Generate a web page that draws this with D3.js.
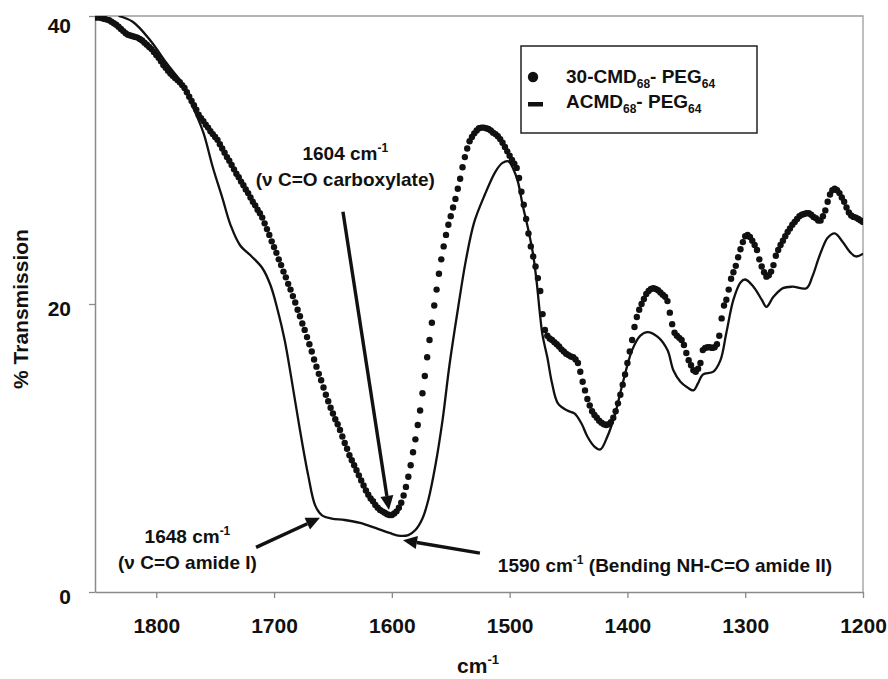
<!DOCTYPE html>
<html>
<head>
<meta charset="utf-8">
<script src="https://cdn.jsdelivr.net/npm/d3@7"></script>
<style>
  body { margin: 0; background: #fff; }
  text { font-family: "Liberation Sans", Arial, sans-serif; font-weight: bold; fill: #111; }
</style>
</head>
<body>
<svg id="chart" width="888" height="679"></svg>
<script>
// 30-CMD68-PEG64 spectrum: % transmission every 2 cm-1 from 1852 down to 1200 cm-1
const cmdStart = 1852;
const cmdStep = 2;
const cmdT = [
  39.9, 39.9, 39.9, 39.85, 39.8, 39.75, 39.7, 39.6, 39.5, 39.4,        // 1852
  39.25, 39.1, 38.95, 38.8, 38.7, 38.65, 38.6, 38.55, 38.5, 38.4,      // 1832
  38.3, 38.15, 38.0, 37.85, 37.7, 37.5, 37.3, 37.1, 36.85, 36.6,       // 1812
  36.4, 36.2, 36.0, 35.85, 35.7, 35.55, 35.4, 35.2, 35.0, 34.7,        // 1792
  34.4, 34.1, 33.8, 33.5, 33.15, 32.9, 32.7, 32.45, 32.25, 32.0,       // 1772
  31.8, 31.6, 31.4, 31.1, 30.8, 30.5, 30.2, 29.95, 29.65, 29.35,       // 1752
  29.05, 28.8, 28.5, 28.25, 27.95, 27.7, 27.4, 27.1, 26.85, 26.55,     // 1732
  26.3, 26.0, 25.6, 25.2, 24.8, 24.35, 23.95, 23.55, 23.1, 22.7,       // 1712
  22.25, 21.85, 21.4, 21.0, 20.55, 20.1, 19.6, 19.15, 18.65, 18.2,     // 1692
  17.7, 17.2, 16.7, 16.15, 15.65, 15.15, 14.7, 14.2, 13.7, 13.25,      // 1672
  12.8, 12.4, 12.0, 11.65, 11.25, 10.8, 10.35, 9.95, 9.5, 9.15,        // 1652
  8.8, 8.45, 8.1, 7.75, 7.4, 7.05, 6.75, 6.5, 6.3, 6.05,               // 1632
  5.85, 5.7, 5.6, 5.5, 5.4, 5.35, 5.35, 5.45, 5.6, 5.85,               // 1612
  6.2, 6.7, 7.3, 8.0, 8.8, 9.7, 10.6, 11.6, 12.6, 13.8,                // 1592
  15.0, 16.3, 17.5, 18.7, 19.9, 21.0, 22.1, 23.1, 24.0, 24.8,          // 1572
  25.5, 26.1, 26.7, 27.3, 28.0, 28.7, 29.5, 30.2, 30.8, 31.3,          // 1552
  31.6, 31.85, 32.05, 32.2, 32.25, 32.25, 32.2, 32.15, 32.05, 31.9,    // 1532
  31.8, 31.65, 31.45, 31.2, 30.9, 30.6, 30.3, 30.0, 29.75, 29.45,      // 1512
  28.75, 27.8, 26.9, 25.9, 24.9, 24.0, 23.3, 22.6, 21.8, 20.9,         // 1492
  19.3, 18.2, 17.8, 17.6, 17.5, 17.35, 17.2, 17.05, 16.85, 16.7,       // 1472
  16.55, 16.45, 16.35, 16.3, 16.15, 15.9, 15.3, 14.6, 14.0, 13.4,      // 1452
  12.95, 12.55, 12.3, 12.1, 11.9, 11.75, 11.65, 11.6, 11.65, 11.8,     // 1432
  12.1, 12.55, 13.1, 13.7, 14.4, 15.1, 15.9, 16.7, 17.5, 18.4,         // 1412
  19.1, 19.6, 20.0, 20.35, 20.7, 20.9, 21.05, 21.1, 21.05, 20.95,      // 1392
  20.8, 20.65, 20.5, 20.2, 19.4, 18.6, 18.0, 17.8, 17.65, 17.5,        // 1372
  17.15, 16.6, 16.1, 15.75, 15.4, 15.3, 15.5, 15.9, 16.8, 16.95,       // 1352
  17.0, 17.0, 16.95, 17.0, 17.2, 17.8, 19.0, 19.9, 20.3, 21.0,         // 1332
  21.75, 22.2, 22.65, 23.25, 23.8, 24.3, 24.7, 24.8, 24.65, 24.4,      // 1312
  24.1, 23.75, 23.1, 22.6, 22.2, 21.9, 22.0, 22.25, 22.7, 23.35,       // 1292
  23.75, 24.1, 24.4, 24.7, 25.0, 25.25, 25.5, 25.7, 25.9, 26.1,        // 1272
  26.2, 26.25, 26.3, 26.3, 26.2, 26.05, 25.95, 25.8, 25.8, 26.1,       // 1252
  26.5, 27.1, 27.6, 27.9, 28.0, 27.9, 27.7, 27.4, 27.1, 26.7,          // 1232
  26.35, 26.15, 26.05, 26.0, 25.9, 25.8, 25.7                          // 1212
];

// ACMD68-PEG64 spectrum: wavenumber (cm-1) and % transmission
const acmdWn = [
  1832, 1820, 1805, 1791, 1777, 1769, 1760, 1752, 1744, 1737, 1729, 1719, 1710, 1703,
  1697, 1691, 1685, 1678, 1671, 1665, 1659, 1651, 1640, 1627, 1614, 1602, 1593, 1586,
  1580, 1574, 1569, 1563, 1557, 1551, 1544, 1537, 1530, 1521, 1512, 1506, 1501, 1497,
  1493, 1489, 1484, 1480, 1477, 1474, 1472, 1468, 1464, 1459, 1451, 1445, 1439, 1434,
  1428, 1423, 1417, 1411, 1404, 1396, 1389, 1383, 1374, 1366, 1361, 1355, 1349, 1344,
  1340, 1336, 1327, 1321, 1316, 1310, 1304, 1300, 1293, 1286, 1282, 1276, 1268, 1260,
  1248, 1243, 1238, 1235, 1230, 1224, 1218, 1211, 1206, 1200
];
const acmdT = [
  40.0, 39.6, 38.3, 36.7, 35.2, 33.7, 31.9, 29.5, 27.4, 25.5, 24.1, 23.3, 22.5, 21.3,
  19.6, 17.5, 14.7, 11.25, 8.1, 6.0, 5.3, 5.1, 5.0, 4.8, 4.45, 4.1, 3.9, 3.95,
  4.3, 5.1, 6.4, 8.8, 11.9, 15.8, 19.6, 23.1, 25.7, 27.6, 29.2, 29.8, 29.9, 29.4,
  28.5, 26.9, 25.1, 23.4, 21.5, 19.1, 17.8, 16.3, 14.5, 13.1, 12.6, 12.4, 11.7, 10.8,
  10.1, 9.9, 10.8, 12.2, 14.5, 16.8, 17.8, 18.05, 17.7, 16.8, 15.4, 14.6, 14.2, 14.0,
  14.5, 15.1, 15.3, 16.1, 18.0, 20.3, 21.5, 21.7, 21.2, 20.3, 19.8, 20.5, 21.1, 21.2,
  21.1, 21.9, 23.1, 23.75, 24.6, 24.9, 24.4, 23.6, 23.3, 23.5
];

const xTicks = [1800, 1700, 1600, 1500, 1400, 1300, 1200];
const yTicks = [0, 20, 40];
const seriesNames = ["30-CMD", "ACMD"];

// Band annotations: label lines, label anchor and arrow (tail -> tip) in data units
const notes = [
  { lines: [["1604 cm", "-1"], ["(ν C=O carboxylate)", ""]], at: [1639.5, 30.0], anchor: "middle",
    tail: [1641.5, 26.4], tip: [1602.4, 5.7] },
  { lines: [["1648 cm", "-1"], ["(ν C=O amide I)", ""]], at: [1773.5, 3.4], anchor: "middle",
    tail: [1715.3, 3.1], tip: [1661, 5.15] },
  { lines: [["1590 cm", "-1", " (Bending NH-C=O amide II)"]], at: [1510, 1.4], anchor: "start",
    tail: [1525.2, 2.7], tip: [1590.5, 3.6] }
];

const W = 888, H = 679;
const box = { left: 95, right: 863, top: 16, bottom: 592 };
const ink = "#111";

const svg = d3.select("#chart");
svg.append("rect").attr("width", W).attr("height", H).attr("fill", "#fff");

const x = d3.scaleLinear().domain([1852, 1200]).range([box.left, box.right]);
const y = d3.scaleLinear().domain([0, 40]).range([box.bottom, box.top]);

svg.append("defs").append("clipPath").attr("id", "plotClip")
  .append("rect")
  .attr("x", box.left).attr("y", box.top)
  .attr("width", box.right - box.left).attr("height", box.bottom - box.top);

// plot frame (top and right edges)
svg.append("path")
  .attr("d", `M${box.left},${box.top}H${box.right}V${box.bottom}`)
  .attr("fill", "none").attr("stroke", "#9c9c9c").attr("stroke-width", 1.3);

// x axis
const gx = svg.append("g").attr("transform", `translate(0,${box.bottom})`)
  .call(d3.axisBottom(x).tickValues(xTicks).tickSize(6).tickSizeOuter(0).tickFormat(d3.format("d")));
gx.select(".domain").attr("stroke", "#8a8a8a").attr("stroke-width", 1.5);
gx.selectAll(".tick line").attr("stroke", "#8a8a8a").attr("stroke-width", 1.3);
gx.selectAll(".tick text")
  .attr("y", 41).attr("dy", null)
  .style("font-size", "21px").style("font-family", "'Liberation Sans', Arial, sans-serif")
  .style("font-weight", "bold").attr("fill", ink);

// y axis
const gy = svg.append("g").attr("transform", `translate(${box.left},0)`)
  .call(d3.axisLeft(y).tickValues(yTicks).tickSize(6).tickSizeOuter(0).tickFormat(d3.format("d")));
gy.select(".domain").attr("stroke", "#8a8a8a").attr("stroke-width", 1.5);
gy.selectAll(".tick line").attr("stroke", "#8a8a8a").attr("stroke-width", 1.3);
// labels sit a little below their tick, and the top one is kept inside the chart area
gy.selectAll(".tick text")
  .attr("x", -24).attr("dy", null)
  .attr("y", d => Math.max(y(d) + 11.5, 32) - y(d))
  .style("font-size", "21px").style("font-family", "'Liberation Sans', Arial, sans-serif")
  .style("font-weight", "bold").attr("fill", ink);

// axis titles
svg.append("text")
  .attr("transform", "translate(28,309) rotate(-90)")
  .attr("text-anchor", "middle").style("font-size", "21px")
  .text("% Transmission");

const xt = svg.append("text").attr("x", 478).attr("y", 673)
  .attr("text-anchor", "middle").style("font-size", "21px");
xt.append("tspan").text("cm");
xt.append("tspan").attr("dy", -9).style("font-size", "13px").text("-1");

// spectra
const plot = svg.append("g").attr("clip-path", "url(#plotClip)");

const acmd = acmdWn.map((w, i) => [w, acmdT[i]]);
plot.append("path")
  .datum(acmd)
  .attr("fill", "none").attr("stroke", ink).attr("stroke-width", 2.3)
  .attr("stroke-linejoin", "round")
  .attr("d", d3.line().x(d => x(d[0])).y(d => y(d[1])).curve(d3.curveCatmullRom.alpha(0.5)));

const cmd = cmdT.map((t, i) => [cmdStart - i * cmdStep, t]);
plot.append("g").selectAll("circle")
  .data(cmd).join("circle")
  .attr("cx", d => x(d[0])).attr("cy", d => y(d[1]))
  .attr("r", 3.2).attr("fill", ink);

// annotations
function arrow(g, from, to) {
  const [x1, y1] = [x(from[0]), y(from[1])];
  const [x2, y2] = [x(to[0]), y(to[1])];
  const ang = Math.atan2(y2 - y1, x2 - x1);
  const hl = 14, hw = 6.5;
  const bx = x2 - hl * Math.cos(ang), by = y2 - hl * Math.sin(ang);
  g.append("line").attr("x1", x1).attr("y1", y1).attr("x2", bx).attr("y2", by)
    .attr("stroke", ink).attr("stroke-width", 3.4);
  const px = -Math.sin(ang) * hw, py = Math.cos(ang) * hw;
  g.append("path")
    .attr("d", `M${x2},${y2}L${bx + px},${by + py}L${bx - px},${by - py}Z`)
    .attr("fill", ink);
}

const ann = svg.append("g");
notes.forEach(n => {
  n.lines.forEach((ln, k) => {
    const t = ann.append("text")
      .attr("x", x(n.at[0])).attr("y", y(n.at[1]) + k * 26)
      .attr("text-anchor", n.anchor).style("font-size", "19px");
    t.append("tspan").text(ln[0]);
    if (ln[1]) t.append("tspan").attr("dy", -8).style("font-size", "12px").text(ln[1]);
    if (ln[2]) t.append("tspan").attr("dy", 8).text(ln[2]);
  });
  arrow(ann, n.tail, n.tip);
});

// legend
const lg = svg.append("g").attr("transform", "translate(521,46)");
lg.append("rect").attr("width", 236).attr("height", 87)
  .attr("fill", "#fff").attr("stroke", "#222").attr("stroke-width", 1.5);
lg.append("circle").attr("cx", 12).attr("cy", 31).attr("r", 5.2).attr("fill", ink);
lg.append("rect").attr("x", 7).attr("y", 56).attr("width", 15).attr("height", 4.5).attr("fill", ink);
seriesNames.forEach((name, i) => {
  const t = lg.append("text").attr("x", 45).attr("y", 37 + i * 25).style("font-size", "19px");
  t.append("tspan").text(name);
  t.append("tspan").attr("dy", 5).style("font-size", "12px").text("68");
  t.append("tspan").attr("dy", -5).text("- PEG");
  t.append("tspan").attr("dy", 5).style("font-size", "12px").text("64");
});
</script>
</body>
</html>
